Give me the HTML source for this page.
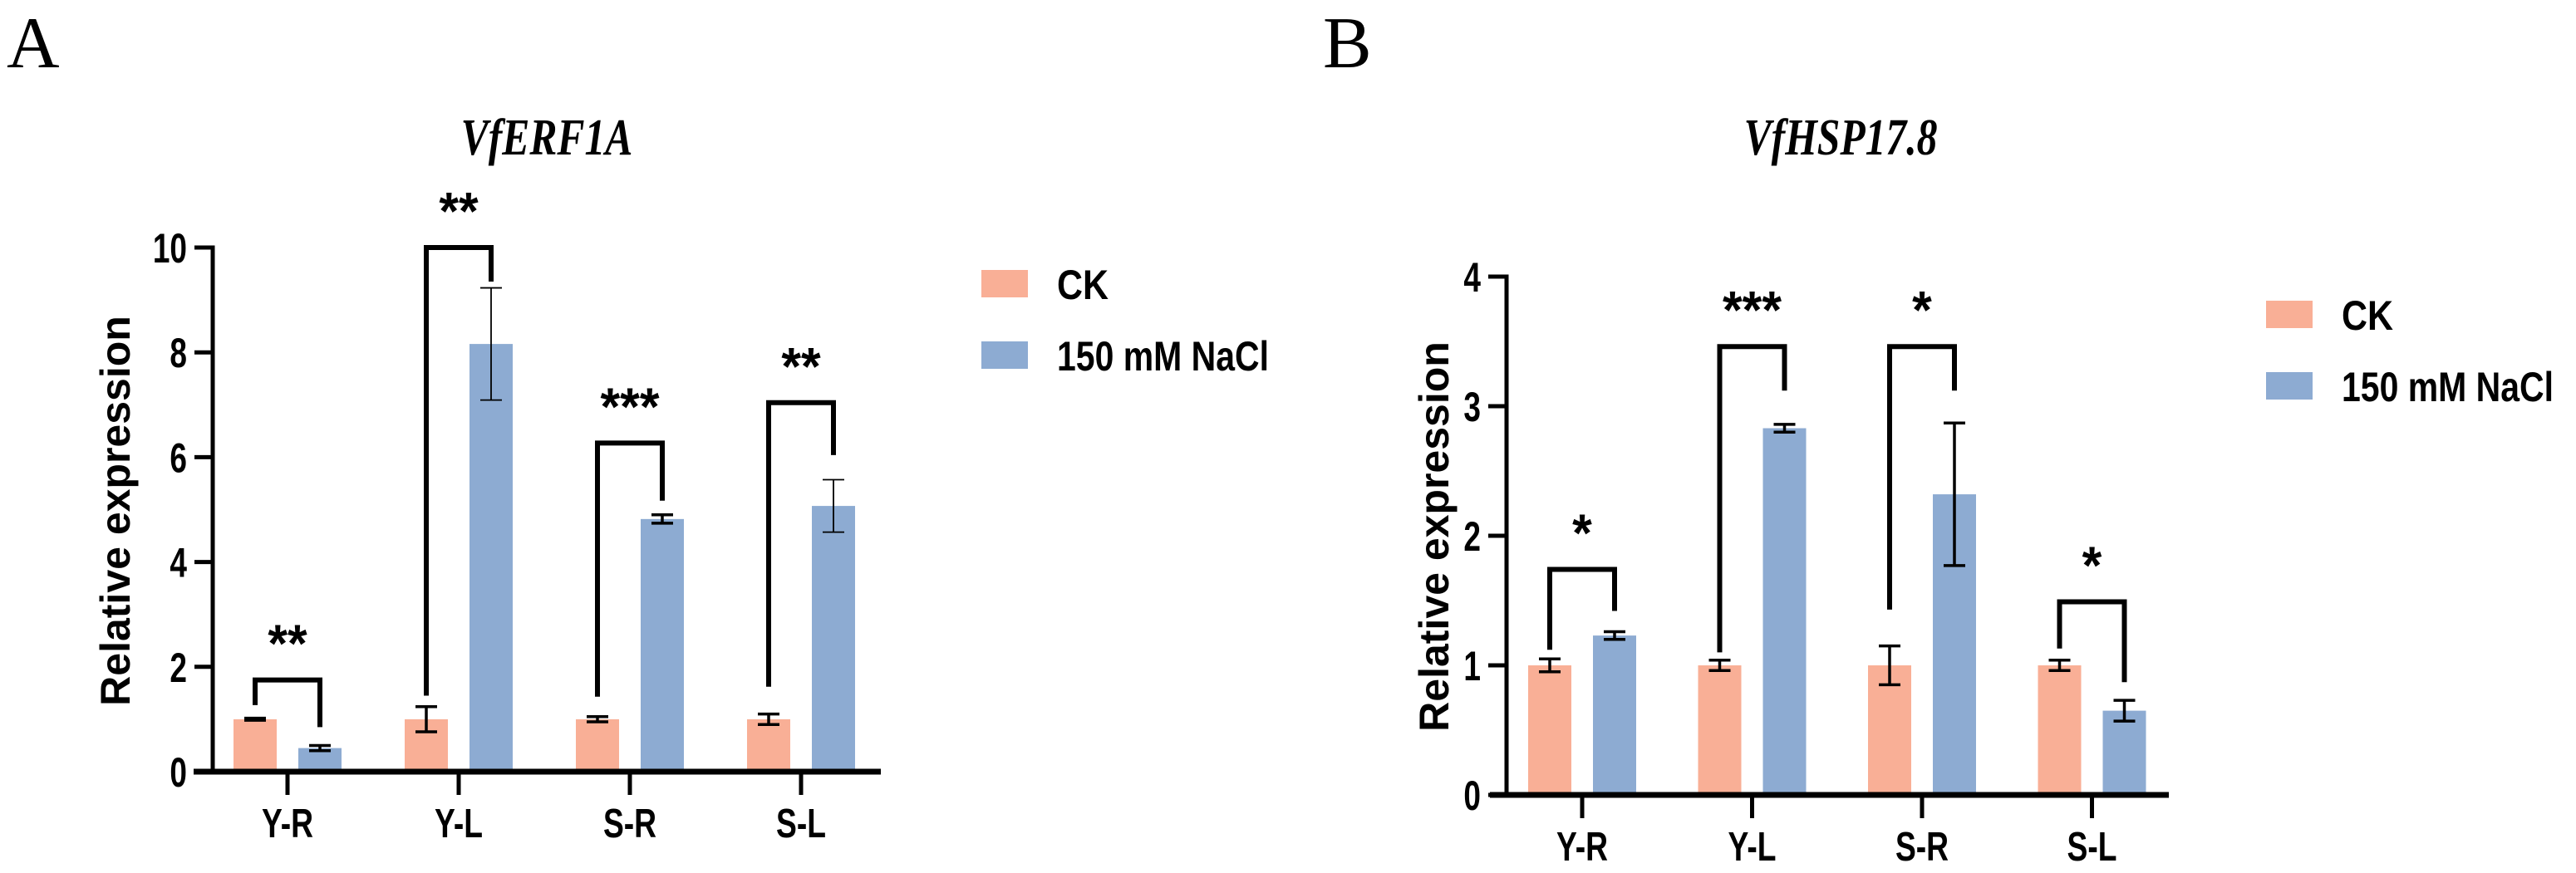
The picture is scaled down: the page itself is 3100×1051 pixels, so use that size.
<!DOCTYPE html>
<html><head><meta charset="utf-8"><style>
html,body{margin:0;padding:0;background:#fff;}
svg{display:block;}
</style></head><body>
<svg id="fig" width="3100" height="1051" viewBox="0 0 3100 1051" xmlns="http://www.w3.org/2000/svg"></svg>
<script>
const categories = ["Y-R","Y-L","S-R","S-L"];
const seriesNames = ["CK","150 mM NaCl"];
const aCK = [1,1,1,1];
const aCKErr = [0.02,0.24,0.05,0.1];
const aNaCl = [0.45,8.16,4.82,5.07];
const aNaClErr = [0.05,1.07,0.08,0.5];
const aTicks = [0,2,4,6,8,10];
const aStars = ["**","**","***","**"];
const aBracketTop = [1.75,10.0,6.27,7.04];
const aLeftLeg = [1.27,1.45,1.43,1.62];
const aRightLeg = [0.85,9.35,5.17,6.04];
const bCK = [1,1,1,1];
const bCKErr = [0.05,0.04,0.15,0.04];
const bNaCl = [1.23,2.83,2.32,0.65];
const bNaClErr = [0.03,0.03,0.55,0.08];
const bTicks = [0,1,2,3,4];
const bStars = ["*","***","*","*"];
const bBracketTop = [1.74,3.46,3.46,1.49];
const bLeftLeg = [1.12,1.10,1.43,1.13];
const bRightLeg = [1.42,3.12,3.12,0.87];

const NS="http://www.w3.org/2000/svg";
const svg=document.getElementById('fig');
function mk(tag,attrs,parent){const e=document.createElementNS(NS,tag);for(const k in attrs)e.setAttribute(k,attrs[k]);(parent||svg).appendChild(e);return e;}
function txt(s,x,y,size,anchor,parent,sx,family,style,weight){
  const g=mk('g',{transform:`translate(${x},${y}) scale(${sx||0.82},1)`},parent);
  const t=mk('text',{x:0,y:0,'font-size':size,'font-family':family||'"Liberation Sans", sans-serif','font-weight':weight||'bold','font-style':style||'normal','text-anchor':anchor||'middle',fill:'#000'},g);
  t.textContent=s;return t;}

function panel(P){
  const g=mk('g',{});
  
  
  const y=v=>P.y0-v*P.unit;
  const gx=i=>P.g0+i*P.gs;
  const L=txt(P.letter,P.letterX,81,88,'start',g,1,'"Liberation Serif", serif','normal','normal');
  
  const T=txt(P.title,P.titleX,186,62,'middle',g,0.8,'"Liberation Serif", serif','italic','bold');
  
  for(let i=0;i<categories.length;i++){
    [[P.ck,P.ckErr,'#F9AF96',-39,'ck'],[P.na,P.naErr,'#8DABD2',39,'nacl']].forEach(([vals,errs,col,off,nm])=>{
      const cx=gx(i)+off;
      const r=mk('rect',{x:cx-26,y:y(vals[i]),width:52,height:y(0)-y(vals[i]),fill:col},g);
      
      
      const eg=mk('g',{stroke:'#000','stroke-width':vals[i]>5?1.8:3.5,fill:'none'},g);
      
      
      mk('line',{x1:cx,x2:cx,y1:y(vals[i]+errs[i]),y2:y(vals[i]-errs[i])},eg);
      mk('line',{x1:cx-13,x2:cx+13,y1:y(vals[i]+errs[i]),y2:y(vals[i]+errs[i])},eg);
      mk('line',{x1:cx-13,x2:cx+13,y1:y(vals[i]-errs[i]),y2:y(vals[i]-errs[i])},eg);
    });
    const bx1=gx(i)-39,bx2=gx(i)+39;
    const br=mk('path',{d:`M${bx1},${y(P.ll[i])} L${bx1},${y(P.bt[i])} L${bx2},${y(P.bt[i])} L${bx2},${y(P.rl[i])}`,stroke:'#000','stroke-width':6,fill:'none'},g);
    
    
    const st=txt(P.stars[i],gx(i),y(P.bt[i])-22,64,'middle',g,0.95);
    
    
  }
  const ax=mk('g',{stroke:'#000',fill:'none'},g);
  
  
  mk('line',{x1:P.ax,x2:P.ax,y1:y(P.ticks[P.ticks.length-1])-2.5,y2:y(0)},ax).setAttribute('stroke-width',5);
  mk('line',{x1:P.xStart,x2:P.xEnd,y1:y(0),y2:y(0)},ax).setAttribute('stroke-width',7);
  P.ticks.forEach(v=>{
    mk('line',{x1:P.ax-22,x2:P.ax,y1:y(v),y2:y(v),'stroke-width':5},ax);
    const t=txt(String(v),P.ax-31,y(v)+18,50,'end',g,0.74);
    
  });
  categories.forEach((c,i)=>{
    mk('line',{x1:gx(i),x2:gx(i),y1:y(0),y2:y(0)+28,'stroke-width':5},ax);
    const t=txt(c,gx(i),y(0)+79,49,'middle',g,0.76);
    
  });
  const yt=mk('text',{x:0,y:0,transform:`translate(${P.ytX},${P.ytY}) rotate(-90)`,'font-size':50,'font-weight':'bold','font-family':'"Liberation Sans", sans-serif','text-anchor':'middle',fill:'#000'},g);
  yt.textContent='Relative expression';
  
  
  seriesNames.forEach((s,i)=>{
    const lg=mk('g',{},g);
    
    
    const sy=P.legY+i*86;
    mk('rect',{x:P.legX,y:sy,width:56,height:33,fill:i?'#8DABD2':'#F9AF96'},lg);
    const t=mk('text',{x:P.legX+91,y:sy+35,'font-size':50,'font-weight':'bold','font-family':'"Liberation Sans", sans-serif',fill:'#000',textLength:i?255:62,lengthAdjust:'spacingAndGlyphs'},lg);
    t.textContent=s;
  });
}
panel({name:'panel-a-vferf1a',letter:'A',letterX:8,title:'VfERF1A',titleX:658,ck:aCK,ckErr:aCKErr,na:aNaCl,naErr:aNaClErr,ticks:aTicks,stars:aStars,bt:aBracketTop,ll:aLeftLeg,rl:aRightLeg,
  y0:929,unit:63.1,g0:346,gs:206,ax:256,xStart:233,xEnd:1060,ytX:156,ytY:615,legX:1181,legY:325});
panel({name:'panel-b-vfhsp17-8',letter:'B',letterX:1592,title:'VfHSP17.8',titleX:2215,ck:bCK,ckErr:bCKErr,na:bNaCl,naErr:bNaClErr,ticks:bTicks,stars:bStars,bt:bBracketTop,ll:bLeftLeg,rl:bRightLeg,
  y0:957,unit:156,g0:1904,gs:204.5,ax:1813,xStart:1793,xEnd:2610,ytX:1743,ytY:646,legX:2727,legY:362});
</script>
</body></html>
